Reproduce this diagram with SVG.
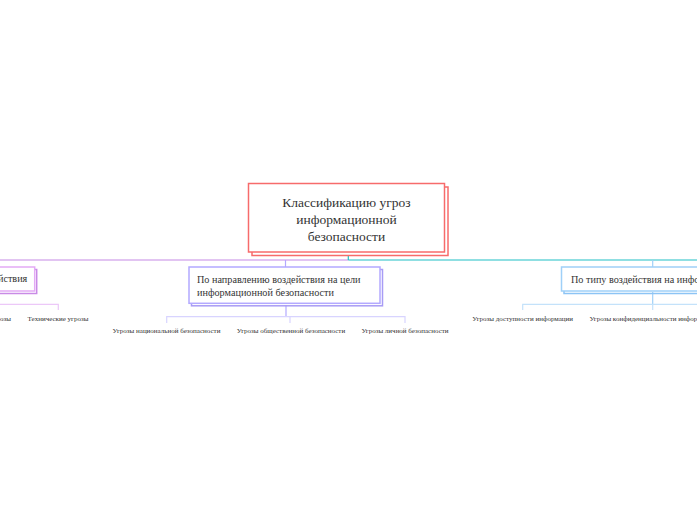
<svg xmlns="http://www.w3.org/2000/svg" width="697" height="520" viewBox="0 0 697 520">
<style>
text{font-family:"Liberation Serif",serif;fill:#333333}
.t-main{font-size:13.5px}
.t-node{font-size:10.2px}
.t-leaf{font-size:7px}
.box{fill:#ffffff;stroke-width:1.5}
.sh{fill:none;stroke-width:1.5}
.ln{fill:none;stroke-width:1.2}
</style>
<rect width="697" height="520" fill="#ffffff"/>
<g id="connectors">
<line class="ln" x1="0" y1="260" x2="348.3" y2="260" stroke="#c58ae6"/>
<line class="ln" x1="348.3" y1="260" x2="697" y2="260" stroke="#21bfc6"/>
<line class="ln" x1="348.3" y1="255" x2="348.3" y2="260" stroke="#21bfc6"/>
<line class="ln" x1="285.5" y1="260" x2="285.5" y2="267" stroke="#b3a9ff"/>
<line class="ln" x1="652.7" y1="260" x2="652.7" y2="267" stroke="#9fd0f8"/>
<polyline class="ln" points="-18,310 -18,304.3 58.3,304.3 58.3,310" stroke="#ecc8f8"/>
<line class="ln" x1="286" y1="305" x2="286" y2="316.7" stroke="#b3a9ff"/>
<polyline class="ln" points="166.7,323 166.7,316.7 405,316.7 405,323" stroke="#d8d4ff"/>
<line class="ln" x1="290" y1="316.7" x2="290" y2="323" stroke="#d8d4ff"/>
<line class="ln" x1="652.7" y1="292" x2="652.7" y2="304.3" stroke="#9fd0f8"/>
<polyline class="ln" points="522.7,310 522.7,304.3 710,304.3" stroke="#c4e2fa"/>
<line class="ln" x1="652.7" y1="304.3" x2="652.7" y2="310" stroke="#c4e2fa"/>
</g>
<g id="root">
<rect class="sh" x="252" y="187" width="196" height="68.5" stroke="#f76b6b"/>
<rect class="box" x="248.5" y="183.5" width="196" height="68.5" stroke="#f76b6b"/>
<text class="t-main" x="346.5" y="206.5" text-anchor="middle">Классификацию угроз</text>
<text class="t-main" x="346.5" y="223.5" text-anchor="middle">информационной</text>
<text class="t-main" x="346.5" y="240.7" text-anchor="middle">безопасности</text>
</g>
<g id="node1">
<rect class="sh" x="-147.5" y="269.5" width="184.2" height="24" stroke="#c98ae6"/>
<rect class="box" x="-150" y="267" width="184.7" height="24" stroke="#e3aaf5"/>
<text class="t-node" x="27.3" y="282.3" text-anchor="end">По способу воздействия</text>
</g>
<g id="node1-leaf1"><text class="t-leaf" x="11" y="320.7" text-anchor="end">Физические угрозы</text></g>
<g id="node1-leaf2"><text class="t-leaf" x="58" y="320.7" text-anchor="middle">Технические угрозы</text></g>
<g id="node2">
<rect class="sh" x="191.5" y="269.5" width="191" height="36.3" stroke="#a89cf5"/>
<rect class="box" x="189" y="267" width="191" height="36.3" stroke="#b3a9ff"/>
<text class="t-node" x="197" y="283">По направлению воздействия на цели</text>
<text class="t-node" x="197" y="295.5">информационной безопасности</text>
</g>
<g id="node2-leaf1"><text class="t-leaf" x="166.5" y="333" text-anchor="middle">Угрозы национальной безопасности</text></g>
<g id="node2-leaf2"><text class="t-leaf" x="291" y="333" text-anchor="middle">Угрозы общественной безопасности</text></g>
<g id="node2-leaf3"><text class="t-leaf" x="405" y="333" text-anchor="middle">Угрозы личной безопасности</text></g>
<g id="node3">
<rect class="sh" x="564" y="269.5" width="200" height="24" stroke="#8cc4f5"/>
<rect class="box" x="561.5" y="267" width="200" height="24" stroke="#9fd0f8"/>
<text class="t-node" x="571" y="282.8">По типу воздействия на информацию</text>
</g>
<g id="node3-leaf1"><text class="t-leaf" x="522.7" y="320.7" text-anchor="middle">Угрозы доступности информации</text></g>
<g id="node3-leaf2"><text class="t-leaf" x="652.7" y="320.7" text-anchor="middle">Угрозы конфиденциальности информации</text></g>
</svg>
